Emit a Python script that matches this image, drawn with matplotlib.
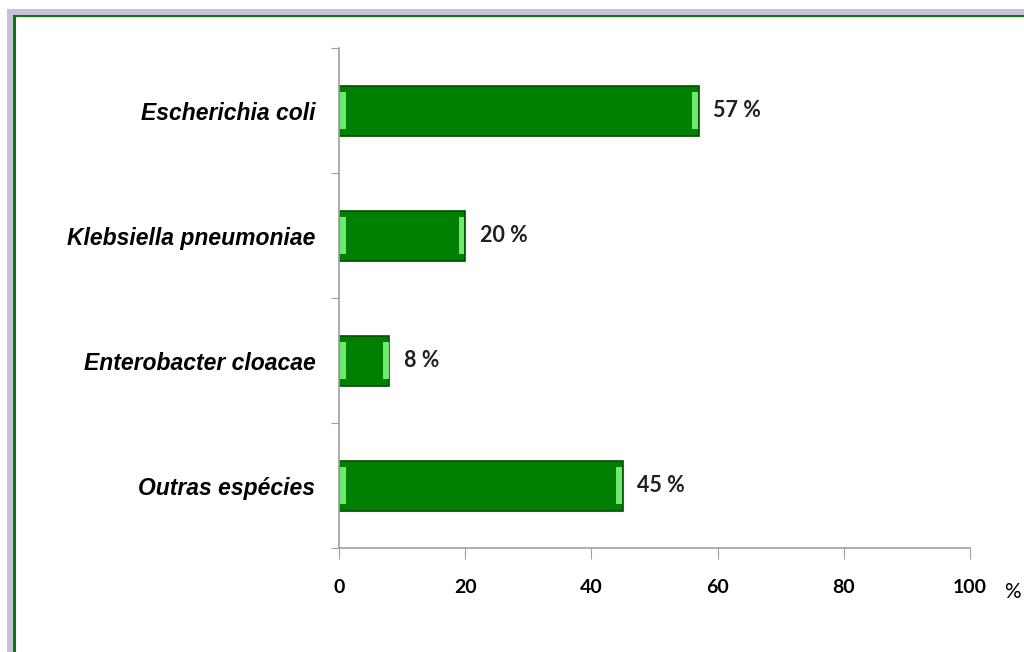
import matplotlib
matplotlib.use("Agg")
import matplotlib.pyplot as plt
from matplotlib.patches import Rectangle

# data
species = ["Escherichia coli", "Klebsiella pneumoniae", "Enterobacter cloacae", "Outras espécies"]
values = [57, 20, 8, 45]
xticks = [0, 20, 40, 60, 80, 100]

W, H = 1024, 652
fig = plt.figure(figsize=(W / 100, H / 100), dpi=100)

# frame: lavender outer band, green line, white inside
def px_rect(x0, y0_top, color):
    fig.patches.append(Rectangle((x0 / W, -0.1), 2, 1 - y0_top / H + 0.1,
                                 transform=fig.transFigure, facecolor=color,
                                 edgecolor="none", zorder=-10))

px_rect(7, 9, "#c8bfd8")
px_rect(13, 15, "#008000")
px_rect(16, 17, "white")

ax = fig.add_axes([339 / W, 1 - 548 / H, (970 - 339) / W, 500 / H])
ax.set_facecolor("none")

ypos = list(range(len(species)))[::-1]
h = 0.4

# drop shadow, main bar, bevel strips at the ends
ax.barh([y - 0.015 for y in ypos], values, height=h, color="#b0b0b0", alpha=0.5, zorder=1)
ax.barh(ypos, values, height=h, color="#008000", edgecolor="#004f00", linewidth=1.2, zorder=2)
ax.barh(ypos, [0.9] * len(values), left=0.15, height=h * 0.75, color="#6ee86e", zorder=3)
ax.barh(ypos, [0.9] * len(values), left=[v - 1.05 for v in values], height=h * 0.75,
        color="#6ee86e", zorder=3)

for y, v in zip(ypos, values):
    ax.text(v + 2.3, y, f"{v} %", va="center", ha="left", fontsize=15.5,
            fontweight="bold", family="Lato", color="#202020")

ax.set_xlim(0, 100)
ax.set_ylim(-0.5, len(species) - 0.5)
ax.set_xticks(xticks)
ax.set_xticklabels([str(t) for t in xticks], fontsize=14, fontweight="bold", family="Lato")
ax.set_yticks([y + 0.5 for y in ypos] + [-0.5])
ax.set_yticklabels([])
ax.set_yticks(ypos, minor=True)
ax.set_yticklabels(species, minor=True, fontsize=16.5, fontstyle="italic",
                   fontweight="bold", family="Liberation Sans")
ax.tick_params(axis="y", which="minor", length=0, pad=17)
ax.tick_params(axis="y", which="major", length=6, color="#a0a0a0")
ax.tick_params(axis="x", length=8, color="#a0a0a0", direction="out", pad=14)

for s in ["top", "right"]:
    ax.spines[s].set_visible(False)
for s in ["left", "bottom"]:
    ax.spines[s].set_color("#a0a0a0")
    ax.spines[s].set_linewidth(1.2)

fig.text(1012 / W, 1 - 592 / H, "%", ha="center", va="center", fontsize=15, family="Lato")

fig.savefig("out.png", dpi=100)
